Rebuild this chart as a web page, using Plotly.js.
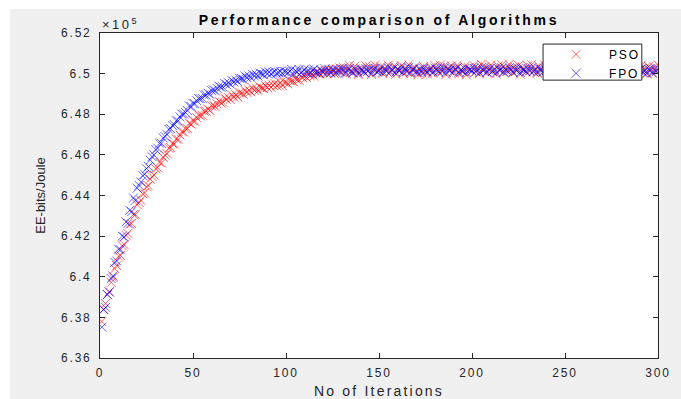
<!DOCTYPE html>
<html>
<head>
<meta charset="utf-8">
<script src="https://cdn.plot.ly/plotly-3.0.1.min.js"></script>
<style>
html,body{margin:0;padding:0;background:#ffffff;width:681px;height:399px;overflow:hidden;}
#chart{position:absolute;left:10px;top:9px;width:671px;height:390px;}
svg text{letter-spacing:1.8px;}
.g-gtitle text, .gtitle{letter-spacing:2.7px;}
.g-xtitle text, .xtitle{letter-spacing:2.2px;}
.g-ytitle text, .ytitle{letter-spacing:0px;}
.legendtext{letter-spacing:1.8px;}
.annotation-text{letter-spacing:2.5px;}
</style>
</head>
<body>
<div id="chart"></div>
<script>
// Energy efficiency values in units of 1e5 bits/Joule, one per iteration (1..300)
const psoValues = [
6.3780,6.3840,6.3868,6.3912,6.3926,6.3972,6.3996,6.4040,6.4055,6.4101,
6.4105,6.4152,6.4158,6.4204,6.4213,6.4259,6.4262,6.4306,6.4306,6.4355,
6.4366,6.4376,6.4409,6.4412,6.4443,6.4448,6.4480,6.4493,6.4501,6.4532,
6.4537,6.4564,6.4560,6.4588,6.4598,6.4606,6.4633,6.4636,6.4656,6.4653,
6.4678,6.4676,6.4698,6.4715,6.4712,6.4728,6.4729,6.4756,6.4751,6.4769,
6.4765,6.4783,6.4797,6.4792,6.4794,6.4815,6.4815,6.4826,6.4819,6.4842,
6.4845,6.4837,6.4851,6.4864,6.4856,6.4859,6.4880,6.4872,6.4882,6.4873,
6.4893,6.4885,6.4896,6.4886,6.4905,6.4904,6.4898,6.4917,6.4907,6.4919,
6.4911,6.4929,6.4918,6.4927,6.4916,6.4934,6.4930,6.4926,6.4941,6.4931,
6.4943,6.4932,6.4944,6.4952,6.4940,6.4945,6.4956,6.4942,6.4957,6.4957,
6.4949,6.4966,6.4964,6.4961,6.4978,6.4969,6.4968,6.4986,6.4980,6.4989,
6.4981,6.5000,6.4989,6.4998,6.4988,6.5006,6.5002,6.4998,6.5014,6.5004,
6.5016,6.4999,6.5022,6.5005,6.5015,6.5000,6.5023,6.5010,6.5028,6.5006,
6.5030,6.4998,6.5023,6.5040,6.5010,6.5003,6.5036,6.5018,6.4994,6.5027,
6.5021,6.5006,6.5038,6.5013,6.5033,6.4996,6.5025,6.5042,6.5008,6.5016,
6.5034,6.5000,6.5028,6.5011,6.5041,6.5005,6.5019,6.5037,6.4997,6.5024,
6.5014,6.5039,6.5002,6.5029,6.5009,6.5043,6.4999,6.5022,6.5032,6.5007,
6.4995,6.5026,6.5004,6.5035,6.5012,6.4998,6.5020,6.5031,6.5001,6.5040,
6.5023,6.5006,6.5042,6.5010,6.5036,6.4996,6.5028,6.5015,6.5038,6.5003,
6.5025,6.5041,6.4999,6.5019,6.5008,6.5034,6.4994,6.5030,6.5022,6.5011,
6.5040,6.5008,6.5030,6.5000,6.5046,6.5016,6.5035,6.5004,6.5023,6.5042,
6.5010,6.5027,6.4998,6.5038,6.5019,6.5043,6.5006,6.5029,6.5012,6.5045,
6.5024,6.5003,6.5034,6.5015,6.5041,6.4997,6.5031,6.5022,6.5007,6.5039,
6.5014,6.5044,6.5009,6.5026,6.5001,6.5036,6.5023,6.5004,6.5042,6.5017,
6.5032,6.4999,6.5029,6.5040,6.5008,6.5024,6.5003,6.5045,6.5015,6.5030,
6.5006,6.5041,6.5018,6.5034,6.4997,6.5028,6.5038,6.5011,6.5043,6.5020,
6.5002,6.5033,6.5025,6.5005,6.5046,6.5013,6.5036,6.5000,6.5027,6.5039,
6.5009,6.5023,6.5042,6.4998,6.5030,6.5016,6.5040,6.5007,6.5022,6.5044,
6.5012,6.5037,6.5001,6.5028,6.5045,6.5010,6.5024,6.5004,6.5034,6.5019,
6.5041,6.5005,6.5029,6.4999,6.5035,6.5026,6.5002,6.5032,6.5014,6.5043
];
const fpoValues = [
6.3752,6.3838,6.3849,6.3912,6.3925,6.3991,6.4004,6.4071,6.4078,6.4136,
6.4133,6.4200,6.4196,6.4270,6.4262,6.4327,6.4320,6.4388,6.4376,6.4436,
6.4450,6.4467,6.4498,6.4504,6.4532,6.4543,6.4574,6.4591,6.4600,6.4626,
6.4633,6.4657,6.4657,6.4683,6.4690,6.4701,6.4726,6.4729,6.4745,6.4749,
6.4768,6.4768,6.4787,6.4801,6.4801,6.4808,6.4818,6.4841,6.4838,6.4853,
6.4852,6.4866,6.4878,6.4876,6.4878,6.4895,6.4895,6.4904,6.4899,6.4917,
6.4920,6.4915,6.4927,6.4938,6.4933,6.4935,6.4952,6.4946,6.4955,6.4949,
6.4966,6.4959,6.4968,6.4961,6.4977,6.4976,6.4972,6.4988,6.4980,6.4989,
6.4982,6.4997,6.4989,6.4996,6.4988,6.5003,6.4999,6.4996,6.5008,6.4999,
6.5008,6.4998,6.5006,6.5011,6.5001,6.5005,6.5012,6.5000,6.5011,6.5009,
6.5004,6.5011,6.5021,6.4998,6.5015,6.5007,6.5020,6.5003,6.5011,6.5022,
6.5005,6.5018,6.5000,6.5014,6.5022,6.5004,6.5012,6.5001,6.5017,6.5009,
6.5024,6.5006,6.5018,6.5003,6.5021,6.5017,6.5004,6.5020,6.5010,6.5025,
6.5020,6.5004,6.5017,6.5025,6.5010,6.5006,6.5023,6.5014,6.5002,6.5019,
6.5016,6.5008,6.5024,6.5011,6.5022,6.5003,6.5018,6.5026,6.5009,6.5013,
6.5025,6.5008,6.5022,6.5013,6.5029,6.5010,6.5018,6.5027,6.5006,6.5020,
6.5015,6.5028,6.5009,6.5023,6.5012,6.5030,6.5007,6.5019,6.5024,6.5011,
6.5005,6.5021,6.5010,6.5026,6.5014,6.5007,6.5018,6.5024,6.5008,6.5028,
6.5020,6.5011,6.5029,6.5013,6.5026,6.5006,6.5022,6.5015,6.5027,6.5009,
6.5021,6.5029,6.5007,6.5018,6.5012,6.5025,6.5005,6.5023,6.5019,6.5013,
6.5027,6.5010,6.5022,6.5006,6.5030,6.5014,6.5024,6.5008,6.5018,6.5028,
6.5011,6.5020,6.5005,6.5026,6.5016,6.5028,6.5009,6.5021,6.5012,6.5029,
6.5019,6.5008,6.5024,6.5014,6.5027,6.5005,6.5022,6.5018,6.5010,6.5026,
6.5013,6.5029,6.5011,6.5020,6.5007,6.5025,6.5018,6.5008,6.5028,6.5015,
6.5023,6.5006,6.5021,6.5027,6.5010,6.5019,6.5008,6.5029,6.5014,6.5022,
6.5009,6.5027,6.5015,6.5024,6.5005,6.5021,6.5026,6.5012,6.5028,6.5016,
6.5007,6.5023,6.5019,6.5009,6.5030,6.5013,6.5025,6.5006,6.5020,6.5026,
6.5008,6.5015,6.5025,6.5002,6.5019,6.5011,6.5024,6.5007,6.5015,6.5026,
6.5009,6.5022,6.5004,6.5018,6.5026,6.5008,6.5016,6.5005,6.5021,6.5013,
6.5024,6.5006,6.5018,6.5003,6.5021,6.5017,6.5004,6.5020,6.5010,6.5025
];
const seriesNames = ['PSO', 'FPO'];
const xTickVals = [0, 50, 100, 150, 200, 250, 300];
const yTickVals = [6.36, 6.38, 6.40, 6.42, 6.44, 6.46, 6.48, 6.50, 6.52];
const yTickText = ['6.36', '6.38', '6.4', '6.42', '6.44', '6.46', '6.48', '6.5', '6.52'];

const iterations = psoValues.map((_, i) => i + 1);
const axisColor = '#262626';
const font = 'Liberation Sans, Arial, sans-serif';

const traces = [
  {x: iterations, y: psoValues, name: seriesNames[0], type: 'scatter', mode: 'markers',
   marker: {symbol: 'x-thin-open', size: 9, color: 'rgba(255,0,0,0.6)', line: {width: 1}}},
  {x: iterations, y: fpoValues, name: seriesNames[1], type: 'scatter', mode: 'markers',
   marker: {symbol: 'x-thin-open', size: 9, color: 'rgba(0,0,255,0.6)', line: {width: 1}}}
];

const layout = {
  width: 671, height: 390,
  margin: {l: 90, r: 23, t: 24, b: 41, pad: 0},
  paper_bgcolor: '#f0f0f0',
  plot_bgcolor: '#ffffff',
  font: {family: font, size: 12, color: axisColor},
  title: {text: '<b>Performance comparison of Algorithms</b>', font: {family: font, size: 14, color: '#000000'},
          xref: 'paper', x: 0.5, xanchor: 'center', yref: 'container', y: 0.972, yanchor: 'middle'},
  showlegend: true,
  legend: {x: 0.794, y: 0.979, xanchor: 'left', yanchor: 'top', bgcolor: 'rgba(0,0,0,0)',
           borderwidth: 0, font: {family: font, size: 12, color: '#000000'},
           itemwidth: 56, tracegroupgap: 0},
  shapes: [
    {type: 'rect', xref: 'paper', yref: 'paper', x0: 0.794, x1: 0.971, y0: 0.855, y1: 0.966,
     fillcolor: '#ffffff', line: {color: axisColor, width: 1}, layer: 'above'}
  ],
  xaxis: {range: [0, 300], tickvals: xTickVals, ticks: 'inside', ticklen: 5, tickcolor: axisColor,
          showline: true, linecolor: axisColor, linewidth: 1, mirror: 'ticks', showgrid: false, zeroline: false,
          ticklabelstandoff: 4,
          tickfont: {family: font, size: 12, color: axisColor},
          title: {text: 'No of Iterations', font: {family: font, size: 14, color: axisColor}, standoff: 12}},
  yaxis: {range: [6.36, 6.52], tickvals: yTickVals, ticktext: yTickText, ticks: 'inside', ticklen: 5, tickcolor: axisColor,
          showline: true, linecolor: axisColor, linewidth: 1, mirror: 'ticks', showgrid: false, zeroline: false,
          ticklabelstandoff: 5,
          tickfont: {family: font, size: 12, color: axisColor},
          title: {text: 'EE-bits/Joule', font: {family: font, size: 13, color: axisColor}, standoff: 12}},
  annotations: [
    {xref: 'paper', yref: 'paper', x: 0, y: 1, xanchor: 'left', yanchor: 'bottom', yshift: -1,
     text: '×10<sup>5</sup>', showarrow: false, font: {family: font, size: 13, color: axisColor}}
  ]
};

Plotly.newPlot('chart', traces, layout, {displayModeBar: false, staticPlot: true});
</script>
</body>
</html>
